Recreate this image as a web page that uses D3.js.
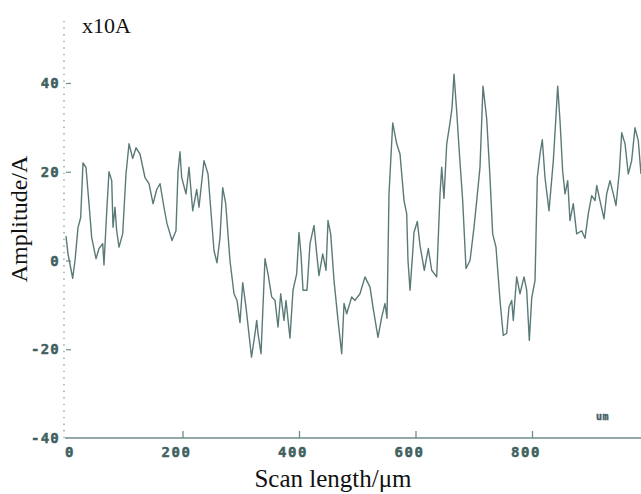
<!DOCTYPE html>
<html>
<head>
<meta charset="utf-8">
<script src="https://cdn.jsdelivr.net/npm/d3@7"></script>
<style>
  html, body { margin: 0; padding: 0; background: #fff; }
  svg { display: block; }
</style>
</head>
<body>
<svg id="chart" width="641" height="494"></svg>
<script>
// Surface profile: scan position (µm) and amplitude (x10 Å)
const scanPos = [
  0, 3.4, 11.5, 15.5, 20.6, 25.2, 29.2, 34.3, 39.5, 44.1, 51.5, 56.7, 63, 65.2, 69.9, 73.8, 78.5, 80.7, 84.1, 87,
  91, 97.3, 103, 108.2, 114.5, 120.2, 127, 135.6, 142.5, 149.4, 155.7, 161.4, 168.2, 173.4, 182, 188.8, 192.3, 195.7, 198.6, 206,
  211.2, 217.5, 224.4, 228.3, 236.9, 243.8, 254.1, 259.2, 264.4, 269, 274.2, 281.5, 288.4, 293.6, 298.7, 303.4, 309, 318.5, 324.5, 327.4,
  329.6, 334.8, 341.6, 346.8, 353.1, 358.8, 364, 368.6, 374.2, 377.7, 384.5, 389.7, 396, 400, 403.4, 406.9, 413.7, 418.9, 425.8, 430.4,
  434.3, 440.7, 446.4, 449.8, 454.4, 460.1, 467, 473.3, 477.3, 481.9, 490.5, 496.1, 504.7, 513.3, 521.9, 527, 535.6, 541.9, 547.6, 551.1,
  554.5, 560.9, 567.7, 573.4, 580.3, 584.9, 587.1, 590.6, 595.2, 597.4, 603.1, 607.7, 615.1, 622, 627.8, 636.4, 642.1, 645, 648.9, 653.6,
  659.2, 662.7, 666.1, 670.7, 674.7, 681, 686.7, 693.6, 700.4, 705.1, 710.7, 715.9, 722.2, 727.9, 732.5, 738.2, 745.1, 750.7, 756.6, 760.5,
  765.2, 767.9, 773.7, 779.4, 786.3, 790.9, 795.4, 799.5, 805.2, 809.1, 813.7, 817.7, 822.3, 829.2, 836.6, 840.7, 844.1, 848.1, 852.7, 856.7,
  861.3, 865.2, 870.9, 876.7, 885.3, 891, 896.6, 902.5, 908.2, 911.1, 916.7, 923.6, 928.2, 933.9, 939.6, 944.2, 949.9, 954, 959.7, 965.3,
  971.1, 976.8, 982.5, 987.1
];
const amplitude = [
  5.5, 1.5, -4, 0, 7.4, 9.7, 22, 21, 12.8, 5.2, 0.4, 2.7, 3.8, -1, 11, 20, 18, 7.5, 12, 6.7,
  3, 6, 19.5, 26.3, 23, 25.4, 24, 18.7, 17.3, 12.8, 16, 17.3, 12, 8.3, 4.5, 6.7, 20, 24.5, 18.7, 15,
  21, 11.2, 16, 12, 22.5, 19.5, 2.2, -0.5, 5.2, 16.4, 12.8, 0, -7.5, -9, -14, -5, -10.5, -21.8, -16.4, -13.5,
  -16.4, -21, 0.4, -3, -8.2, -9, -15, -7.5, -13.5, -9, -17.5, -6.7, -3, 6.3, 1.5, -6.7, -6.7, 3.8, 7.9, 1.5,
  -3.4, 1.5, -2.2, 9, 6, -4.5, -13.5, -21, -9.7, -12, -8.2, -9, -7.5, -3.7, -6, -10.5, -17.3, -12.8, -9.7, -13,
  15, 31, 26.3, 24, 13.5, 10.5, 0, -6.7, 1.8, 6.3, 8.8, 3.4, -2.2, 2.7, -2.2, -3.7, 15, 21, 14, 26.3,
  31, 34.4, 42, 33.7, 25.4, 13.5, -1.8, 0, 7.4, 13.5, 21, 39.3, 32, 18.7, 6, 3, -9, -16.9, -16.4, -10.5,
  -9, -13.5, -3.7, -7.5, -3.7, -6.7, -18, -8.5, -4.5, 18.7, 24, 27.2, 18.7, 11.2, 22.5, 31.5, 39.3, 31.5, 20, 15,
  18, 9, 12.8, 6, 6.7, 5, 10.5, 14.6, 13.5, 16.9, 13.5, 9.4, 15, 18, 15, 12.4, 20, 28.8, 26.3, 19.5,
  22.5, 29.9, 27, 19.5
];
const xTicks = [0, 200, 400, 600, 800];
const yTicks = [-40, -20, 0, 20, 40];

const svg = d3.select("#chart");
const axisColor = "#6f8d8b";
const labelColor = "#3f615f";
const lineColor = "#5a7a78";
const monoFont = "'DejaVu Sans Mono', monospace";
const serifFont = "'Liberation Serif', 'Times New Roman', serif";

const x = d3.scaleLinear().domain([0, 1000]).range([66, 648.5]);
const y = d3.scaleLinear().domain([-40, 40]).range([438, 83]);

// Dotted vertical axis with inward ticks
svg.append("line")
  .attr("x1", 64).attr("x2", 64)
  .attr("y1", y(54)).attr("y2", y(-40))
  .attr("stroke", "#8ea5a3").attr("stroke-width", 1.4)
  .attr("stroke-dasharray", "1.4,5.2");

const yAxis = d3.axisRight(y).tickValues(yTicks.filter(d => d > -40)).tickSize(5).tickFormat("");
svg.append("g")
  .attr("transform", "translate(66,0)")
  .call(yAxis)
  .call(g => g.select(".domain").remove())
  .call(g => g.selectAll(".tick line").attr("stroke", axisColor).attr("stroke-width", 1.2));

svg.append("g")
  .selectAll("text")
  .data(yTicks)
  .join("text")
  .attr("x", 60)
  .attr("y", d => y(d) + 5)
  .attr("text-anchor", "end")
  .attr("font-family", monoFont)
  .attr("font-weight", "bold")
  .attr("font-size", 14)
  .attr("letter-spacing", 1.2)
  .attr("fill", labelColor)
  .attr("stroke", labelColor)
  .attr("stroke-width", 0.5)
  .text(d => d);

// Horizontal axis: solid base line, ticks pointing up
const xAxis = d3.axisTop(x).tickValues(xTicks.filter(d => d > 0)).tickSize(7).tickFormat("");
svg.append("g")
  .attr("transform", "translate(0,438)")
  .call(xAxis)
  .call(g => g.select(".domain").remove())
  .call(g => g.selectAll(".tick line").attr("stroke", axisColor).attr("stroke-width", 1.3));

svg.append("line")
  .attr("x1", 65).attr("x2", 641)
  .attr("y1", 438).attr("y2", 438)
  .attr("stroke", axisColor).attr("stroke-width", 1.6);

svg.append("g")
  .selectAll("text")
  .data(xTicks)
  .join("text")
  .attr("x", d => d === 0 ? x(d) - 1 : x(d) - 6)
  .attr("y", 457)
  .attr("text-anchor", d => d === 0 ? "start" : "middle")
  .attr("font-family", monoFont)
  .attr("font-weight", "bold")
  .attr("font-size", 14)
  .attr("letter-spacing", 1.6)
  .attr("fill", labelColor)
  .attr("stroke", labelColor)
  .attr("stroke-width", 0.5)
  .text(d => d);

// Profile trace
const line = d3.line()
  .x((d, i) => x(scanPos[i]))
  .y(d => y(d));

svg.append("path")
  .datum(amplitude)
  .attr("d", line)
  .attr("fill", "none")
  .attr("stroke", lineColor)
  .attr("stroke-width", 1.4)
  .attr("stroke-linejoin", "round");

// Unit marker near the lower right
svg.append("text")
  .attr("x", 596).attr("y", 420)
  .attr("font-family", monoFont)
  .attr("font-weight", "bold")
  .attr("font-size", 10)
  .attr("letter-spacing", 0.5)
  .attr("fill", labelColor)
  .attr("stroke", labelColor)
  .attr("stroke-width", 0.4)
  .text("um");

// Titles
svg.append("text")
  .attr("x", 82).attr("y", 33)
  .attr("font-family", serifFont)
  .attr("font-size", 22)
  .attr("fill", "#111")
  .text("x10A");

svg.append("text")
  .attr("x", 333).attr("y", 487)
  .attr("text-anchor", "middle")
  .attr("font-family", serifFont)
  .attr("font-size", 25)
  .attr("fill", "#111")
  .text("Scan length/μm");

svg.append("text")
  .attr("transform", "translate(27,219) rotate(-90)")
  .attr("text-anchor", "middle")
  .attr("font-family", serifFont)
  .attr("font-size", 24)
  .attr("fill", "#111")
  .text("Amplitude/A");
</script>
</body>
</html>
